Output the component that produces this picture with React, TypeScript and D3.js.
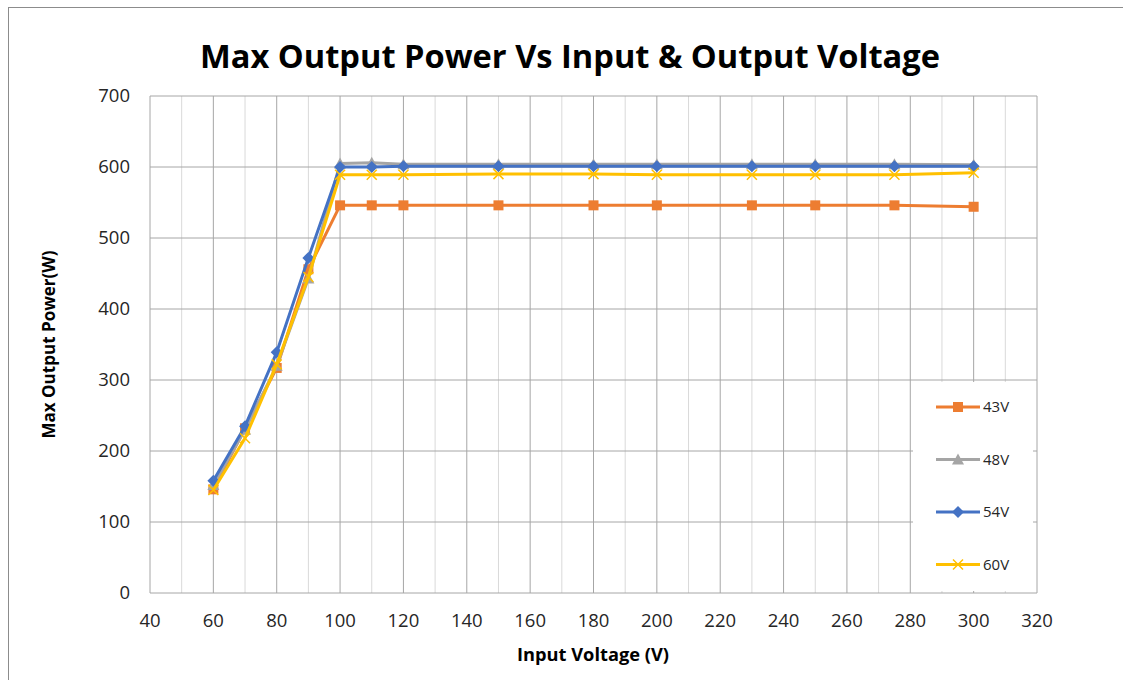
import React, { useRef, useEffect } from 'react';
import * as d3 from 'd3';

const inputVoltage = [60, 70, 80, 90, 100, 110, 120, 150, 180, 200, 230, 250, 275, 300];
const v43 = [146, 232, 317, 456, 546, 546, 546, 546, 546, 546, 546, 546, 546, 544];
const v48 = [152, 230, 320, 443, 605, 606, 604, 604, 604, 604, 604, 604, 604, 603];
const v54 = [158, 235, 339, 472, 600, 600, 601, 601, 601, 601, 601, 601, 601, 601];
const v60 = [145, 218, 322, 445, 589, 589, 589, 590, 590, 589, 589, 589, 589, 592];

const seriesNames = ['43V', '48V', '54V', '60V'];
const seriesColors = ['#ED7D31', '#A5A5A5', '#4472C4', '#FFC000'];
const seriesMarkers = ['square', 'triangle', 'diamond', 'cross'];
const seriesValues = [v43, v48, v54, v60];

const xTicks = d3.range(40, 321, 20);
const yTicks = d3.range(0, 701, 100);

const drawMarker = (g, kind, cx, cy, color) => {
  if (kind === 'square') {
    g.append('rect').attr('x', cx - 5).attr('y', cy - 5).attr('width', 10).attr('height', 10).attr('fill', color);
  } else if (kind === 'triangle') {
    g.append('path').attr('d', `M${cx},${cy - 6}L${cx + 6},${cy + 5}L${cx - 6},${cy + 5}Z`).attr('fill', color);
  } else if (kind === 'diamond') {
    g.append('path').attr('d', `M${cx},${cy - 6}L${cx + 6},${cy}L${cx},${cy + 6}L${cx - 6},${cy}Z`).attr('fill', color);
  } else {
    g.append('path').attr('d', `M${cx - 5},${cy - 5}L${cx + 5},${cy + 5}M${cx + 5},${cy - 5}L${cx - 5},${cy + 5}`)
      .attr('stroke', color).attr('stroke-width', 1.5).attr('fill', 'none');
  }
};

const App = () => {
  const svgRef = useRef();

  useEffect(() => {
    const width = 1123;
    const height = 680;
    const marginLeft = 150;
    const marginRight = 86;
    const marginTop = 96;
    const marginBottom = 87;
    const font = '"Open Sans", "Noto Sans", sans-serif';

    const svg = d3.select(svgRef.current)
      .attr('width', width)
      .attr('height', height)
      .attr('viewBox', `0 0 ${width} ${height}`)
      .style('position', 'absolute')
      .style('left', 0)
      .style('top', 0)
      .style('font-family', font);

    svg.selectAll('*').remove();

    svg.append('rect').attr('width', width).attr('height', height).attr('fill', '#fff');
    // chart frame
    svg.append('rect')
      .attr('x', 8.5).attr('y', 7.5).attr('width', width).attr('height', height)
      .attr('fill', 'none').attr('stroke', '#8c8c8c').attr('stroke-width', 1);

    const x = d3.scaleLinear().domain([40, 320]).range([marginLeft, width - marginRight]);
    const y = d3.scaleLinear().domain([0, 700]).range([height - marginBottom, marginTop]);

    // minor vertical grid
    svg.append('g')
      .selectAll('line')
      .data(d3.range(50, 320, 20))
      .join('line')
      .attr('x1', d => x(d)).attr('x2', d => x(d))
      .attr('y1', y(0)).attr('y2', y(700))
      .attr('stroke', '#d9d9d9').attr('stroke-width', 1);

    // major vertical grid
    svg.append('g')
      .selectAll('line')
      .data(xTicks)
      .join('line')
      .attr('x1', d => x(d)).attr('x2', d => x(d))
      .attr('y1', y(0)).attr('y2', y(700))
      .attr('stroke', '#a6a6a6').attr('stroke-width', 1);

    // horizontal grid
    svg.append('g')
      .selectAll('line')
      .data(yTicks)
      .join('line')
      .attr('x1', x(40)).attr('x2', x(320))
      .attr('y1', d => y(d)).attr('y2', d => y(d))
      .attr('stroke', '#a6a6a6').attr('stroke-width', 1);

    // tick labels
    svg.append('g')
      .selectAll('text')
      .data(yTicks)
      .join('text')
      .attr('x', marginLeft - 20)
      .attr('y', d => y(d))
      .attr('dy', '0.35em')
      .attr('text-anchor', 'end')
      .attr('font-size', 18.5)
      .attr('fill', '#262626')
      .text(d => d);

    svg.append('g')
      .selectAll('text')
      .data(xTicks)
      .join('text')
      .attr('x', d => x(d))
      .attr('y', y(0) + 28)
      .attr('dy', '0.35em')
      .attr('text-anchor', 'middle')
      .attr('font-size', 18.5)
      .attr('fill', '#262626')
      .text(d => d);

    // title and axis titles
    svg.append('text')
      .attr('x', 570).attr('y', 68)
      .attr('text-anchor', 'middle')
      .attr('font-size', 33).attr('font-weight', 'bold')
      .attr('textLength', 740).attr('lengthAdjust', 'spacingAndGlyphs')
      .attr('fill', '#000')
      .text('Max Output Power Vs Input & Output Voltage');

    svg.append('text')
      .attr('x', 593).attr('y', 661)
      .attr('text-anchor', 'middle')
      .attr('font-size', 17).attr('font-weight', 'bold')
      .attr('textLength', 152).attr('lengthAdjust', 'spacingAndGlyphs')
      .text('Input Voltage (V)');

    svg.append('text')
      .attr('transform', `translate(55,${(y(0) + y(700)) / 2}) rotate(-90)`)
      .attr('text-anchor', 'middle')
      .attr('font-size', 17).attr('font-weight', 'bold')
      .attr('textLength', 188).attr('lengthAdjust', 'spacingAndGlyphs')
      .text('Max Output Power(W)');

    // series
    const line = d3.line()
      .x(d => x(d[0]))
      .y(d => y(d[1]));

    seriesValues.forEach((vals, i) => {
      const pts = inputVoltage.map((v, j) => [v, vals[j]]);
      const g = svg.append('g');
      g.append('path')
        .datum(pts)
        .attr('fill', 'none')
        .attr('stroke', seriesColors[i])
        .attr('stroke-width', 3)
        .attr('stroke-linejoin', 'round')
        .attr('d', line);
      pts.forEach(p => drawMarker(g, seriesMarkers[i], x(p[0]), y(p[1]), seriesColors[i]));
    });

    // legend
    const legend = svg.append('g');
    legend.append('rect')
      .attr('x', 913).attr('y', 382).attr('width', 120).attr('height', 209)
      .attr('fill', '#fff');
    seriesNames.forEach((name, i) => {
      const ly = 407 + i * 52.5;
      legend.append('line')
        .attr('x1', 936).attr('x2', 980).attr('y1', ly).attr('y2', ly)
        .attr('stroke', seriesColors[i]).attr('stroke-width', 3);
      drawMarker(legend, seriesMarkers[i], 958, ly, seriesColors[i]);
      legend.append('text')
        .attr('x', 983).attr('y', ly).attr('dy', '0.35em')
        .attr('font-size', 15).attr('fill', '#262626')
        .text(name);
    });
  }, []);

  return <svg ref={svgRef}></svg>;
};

export default App;
